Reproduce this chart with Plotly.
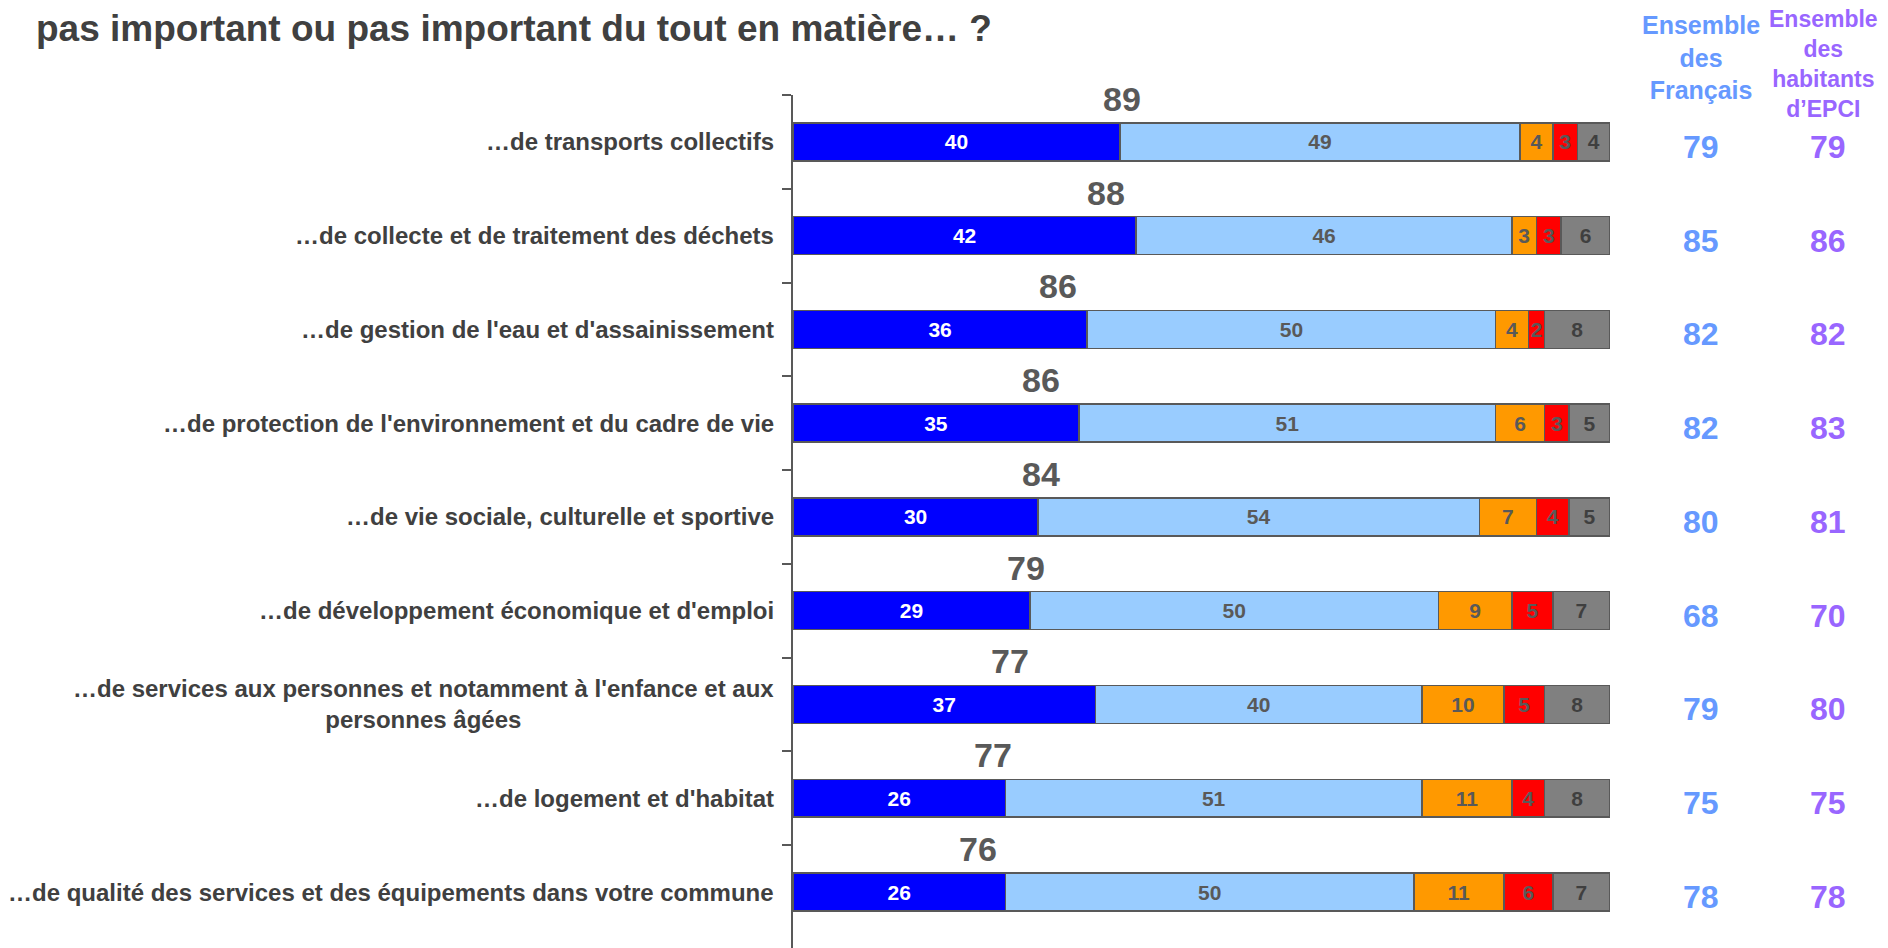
import plotly.graph_objects as go

W, H = 1888, 948
# the page body adds an 8px offset, so margins are trimmed by that much
L, T, B = 785, 87, 0
PLOT_W = 817
R = W - L - PLOT_W

categories = [
    "…de transports collectifs",
    "…de collecte et de traitement des déchets",
    "…de gestion de l'eau et d'assainissement",
    "…de protection de l'environnement et du cadre de vie",
    "…de vie sociale, culturelle et sportive",
    "…de développement économique et d'emploi",
    "…de services aux personnes et notamment à l'enfance et aux<br>personnes âgées",
    "…de logement et d'habitat",
    "…de qualité des services et des équipements dans votre commune",
]
tres_important = [40, 42, 36, 35, 30, 29, 37, 26, 26]
assez_important = [49, 46, 50, 51, 54, 50, 40, 51, 50]
peu_important = [4, 3, 4, 6, 7, 9, 10, 11, 11]
pas_important = [3, 3, 2, 3, 4, 5, 5, 4, 6]
nsp = [4, 6, 8, 5, 5, 7, 8, 8, 7]
total_important = [89, 88, 86, 86, 84, 79, 77, 77, 76]
ensemble_francais = [79, 85, 82, 82, 80, 68, 79, 75, 78]
ensemble_epci = [79, 86, 82, 83, 81, 70, 80, 75, 78]

# where the total labels sit along the bar (x units)
total_label_x = [40.3, 38.3, 32.4, 30.4, 30.4, 28.5, 26.5, 24.5, 22.7]

FONT = "Liberation Sans, Arial, sans-serif"
DARK = "#595959"
TXT = "#404040"
BLUE_TXT = "#6699FF"
PURPLE_TXT = "#9966FF"

series = [
    ("Très important", tres_important, "#0000FF", "white"),
    ("Assez important", assez_important, "#99CCFF", DARK),
    ("Peu important", peu_important, "#FF9900", DARK),
    ("Pas important du tout", pas_important, "#FF0000", DARK),
    ("NSP", nsp, "#808080", "#3f3f3f"),
]

fig = go.Figure()
for name, vals, color, tcol in series:
    fig.add_trace(go.Bar(
        y=categories, x=vals, name=name, orientation="h",
        marker=dict(color=color, line=dict(color=DARK, width=1.5)),
        width=0.405,
        text=vals, textposition="inside", insidetextanchor="middle",
        textangle=0,
        textfont=dict(family=FONT, size=21, color=tcol, weight="bold"),
    ))

annotations = []

# category labels (centered multi-line, right aligned block)
for cat in categories:
    annotations.append(dict(
        x=0, y=cat, xref="x", yref="y", text=cat, showarrow=False,
        xanchor="right", yanchor="middle", align="center", xshift=-17,
        font=dict(family=FONT, size=24, color=TXT, weight="bold"),
    ))

# totals above bars
for cat, tot, xp in zip(categories, total_important, total_label_x):
    annotations.append(dict(
        x=xp, y=cat, xref="x", yref="y", text=str(tot), showarrow=False,
        xanchor="center", yanchor="middle", yshift=43,
        font=dict(family=FONT, size=34, color=DARK, weight="bold"),
    ))

col_fr = 1.111
col_epci = 1.267
for cat, a, b in zip(categories, ensemble_francais, ensemble_epci):
    annotations.append(dict(
        x=col_fr, y=cat, xref="paper", yref="y", text=str(a), showarrow=False,
        xanchor="center", yanchor="middle", yshift=-5,
        font=dict(family=FONT, size=32, color=BLUE_TXT, weight="bold"),
    ))
    annotations.append(dict(
        x=col_epci, y=cat, xref="paper", yref="y", text=str(b), showarrow=False,
        xanchor="center", yanchor="middle", yshift=-5,
        font=dict(family=FONT, size=32, color=PURPLE_TXT, weight="bold"),
    ))

annotations.append(dict(
    x=col_fr, y=1, xref="paper", yref="paper", text="Ensemble<br>des<br>Français",
    showarrow=False, xanchor="center", yanchor="middle", yshift=38, align="center",
    font=dict(family=FONT, size=25, color=BLUE_TXT, weight="bold"),
))
annotations.append(dict(
    x=col_epci, y=1, xref="paper", yref="paper", text="Ensemble<br>des<br>habitants<br>d’EPCI",
    showarrow=False, xanchor="center", yanchor="middle", xshift=-5, yshift=31,
    align="center",
    font=dict(family=FONT, size=23, color=PURPLE_TXT, weight="bold"),
))

# title (only its second line is visible in the frame)
annotations.append(dict(
    x=(34 - 793) / PLOT_W, y=1, xref="paper", yref="paper",
    text="pas important ou pas important du tout en matière… ?",
    showarrow=False, xanchor="left", yanchor="middle", yshift=67,
    font=dict(family=FONT, size=37, color=TXT, weight="bold"),
))

fig.update_layout(
    width=W, height=H,
    margin=dict(l=L, r=R, t=T, b=B, pad=0),
    barmode="stack",
    showlegend=False,
    plot_bgcolor="white", paper_bgcolor="white",
    uniformtext=dict(mode="show", minsize=21),
    annotations=annotations,
    xaxis=dict(range=[0, 100], visible=False, fixedrange=True),
    yaxis=dict(
        type="category", autorange="reversed", showticklabels=False,
        tickson="boundaries", ticks="outside", ticklen=9, tickwidth=1.5,
        tickcolor=DARK, showline=True, linecolor=DARK, linewidth=1.5,
        showgrid=False, zeroline=False, fixedrange=True,
    ),
)

fig.write_html("out.html")
